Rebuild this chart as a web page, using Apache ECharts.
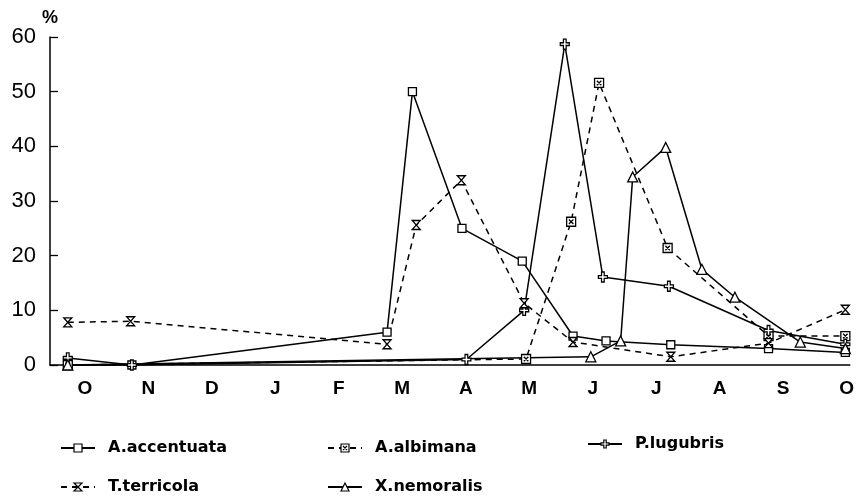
<!DOCTYPE html>
<html>
<head>
<meta charset="utf-8">
<script src="https://cdn.jsdelivr.net/npm/echarts@6/dist/echarts.min.js"></script>
<style>
  html, body { margin: 0; padding: 0; background: #fff; }
  #chart { width: 857px; height: 501px; }
</style>
</head>
<body>
<div id="chart"></div>
<script>
// 月份刻度（0 = 十月）
const monthTicks = [0, 1, 2, 3, 4, 5, 6, 7, 8, 9, 10, 11, 12];
const monthLabels = ['O', 'N', 'D', 'J', 'F', 'M', 'A', 'M', 'J', 'J', 'A', 'S', 'O'];

// 各物种：采样时间（月）与百分比
const accentuataMonth = [-0.27, 0.74, 4.76, 5.16, 5.94, 6.89, 7.69, 8.21, 9.23, 10.77, 11.98];
const accentuataPct   = [0, 0, 6, 50, 25, 19, 5.3, 4.4, 3.7, 3.0, 2.3];

const albimanaMonth = [-0.27, 6.95, 7.66, 8.10, 9.18, 10.77, 11.98];
const albimanaPct   = [0, 1.1, 26.2, 51.6, 21.4, 5.3, 5.3];

const lugubrisMonth = [-0.27, 0.74, 6.01, 6.92, 7.56, 8.16, 9.20, 10.77, 11.98];
const lugubrisPct   = [1.3, 0, 1, 10, 58.7, 16.1, 14.4, 6.3, 3.8];

const terricolaMonth = [-0.27, 0.72, 4.76, 5.22, 5.93, 6.92, 7.69, 9.23, 10.77, 11.98];
const terricolaPct   = [7.8, 8, 3.8, 25.6, 33.8, 11.3, 4.2, 1.5, 4.0, 10.1];

const nemoralisMonth = [-0.27, 7.97, 8.44, 8.63, 9.15, 9.72, 10.24, 11.27, 11.98];
const nemoralisPct   = [0, 1.5, 4.4, 34.4, 39.8, 17.5, 12.4, 4.2, 3.0];

const pctTicks = [0, 10, 20, 30, 40, 50, 60];

function pairs(xs, ys) {
  return xs.map((x, i) => [x, ys[i]]);
}

// 标记形状
const boxCross = 'path://M0,0L10,0L10,10L0,10Z M2.5,2.5L7.5,7.5 M7.5,2.5L2.5,7.5';
const hourglass = 'path://M0,0L10,0L0,10L10,10Z';
const plusMark = 'path://M3.5,0L6.5,0L6.5,4L10,4L10,7L6.5,7L6.5,11L3.5,11L3.5,7L0,7L0,4L3.5,4Z';

function makeSeries(name, xs, ys, symbol, size, dashed) {
  return {
    name: name,
    type: 'line',
    data: pairs(xs, ys),
    symbol: symbol,
    symbolSize: size,
    showAllSymbol: true,
    clip: false,
    itemStyle: { color: '#fff', borderColor: '#000', borderWidth: 1.3 },
    lineStyle: { color: '#000', width: 1.5, type: dashed ? [6, 5] : 'solid' },
    emphasis: { disabled: true }
  };
}

const chart = echarts.init(document.getElementById('chart'));

const legendText = {
  fontFamily: 'DejaVu Sans',
  fontWeight: 'bold',
  fontSize: 16,
  color: '#000',
  padding: [0, 0, 0, 8]
};
const legendItem = { color: '#fff', borderColor: '#000', borderWidth: 1.2 };

const option = {
  animation: false,
  backgroundColor: '#fff',
  grid: { left: 50, right: 6, top: 37, bottom: 136 },
  legend: [
    {
      data: ['A.accentuata', 'T.terricola'],
      orient: 'vertical', left: 55, top: 435,
      itemWidth: 34, itemHeight: 10, itemGap: 23,
      itemStyle: legendItem,
      textStyle: legendText
    },
    {
      data: ['A.albimana', 'X.nemoralis'],
      orient: 'vertical', left: 322, top: 435,
      itemWidth: 34, itemHeight: 10, itemGap: 23,
      itemStyle: legendItem,
      textStyle: legendText
    },
    {
      data: ['P.lugubris'],
      orient: 'vertical', left: 582, top: 431,
      itemWidth: 34, itemHeight: 10,
      itemStyle: legendItem,
      textStyle: legendText
    }
  ],
  xAxis: {
    type: 'value',
    min: -0.55,
    max: 12.05,
    splitLine: { show: false },
    axisLine: { onZero: false, lineStyle: { color: '#000', width: 1.5 } },
    axisTick: { show: false },
    axisLabel: {
      customValues: monthTicks,
      formatter: v => monthLabels[monthTicks.indexOf(v)],
      color: '#000',
      fontFamily: 'Liberation Sans',
      fontWeight: 'bold',
      fontSize: 19,
      margin: 14
    }
  },
  yAxis: {
    type: 'value',
    min: 0,
    max: 60,
    interval: 10,
    name: '%',
    nameLocation: 'end',
    nameGap: 10,
    nameTextStyle: { color: '#000', fontFamily: 'Liberation Sans', fontWeight: 'bold', fontSize: 18, align: 'center' },
    splitLine: { show: false },
    axisLine: { show: true, onZero: false, lineStyle: { color: '#000', width: 1.5 } },
    axisTick: { show: true, inside: true, length: 8, lineStyle: { color: '#000', width: 1.3 } },
    axisLabel: {
      customValues: pctTicks,
      color: '#000',
      fontFamily: 'Liberation Sans',
      fontSize: 22,
      margin: 14
    }
  },
  series: [
    makeSeries('A.accentuata', accentuataMonth, accentuataPct, 'rect', 8, false),
    makeSeries('A.albimana', albimanaMonth, albimanaPct, boxCross, 9, true),
    makeSeries('P.lugubris', lugubrisMonth, lugubrisPct, plusMark, [9, 10], false),
    makeSeries('T.terricola', terricolaMonth, terricolaPct, hourglass, [8, 9], true),
    makeSeries('X.nemoralis', nemoralisMonth, nemoralisPct, 'triangle', 10, false)
  ]
};

chart.setOption(option);
</script>
</body>
</html>
